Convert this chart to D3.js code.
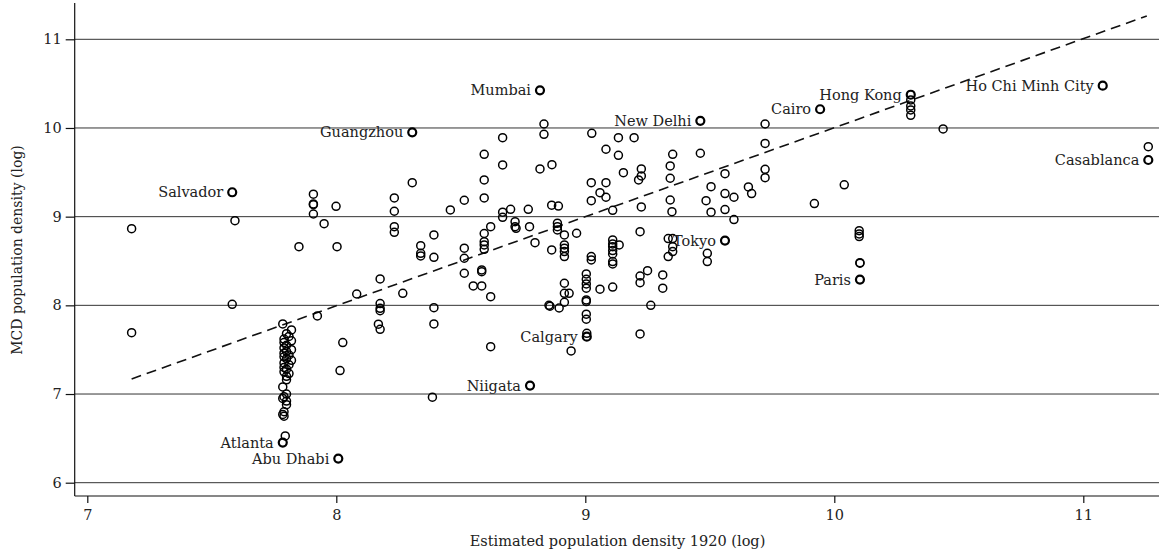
<!DOCTYPE html>
<html>
<head>
<meta charset="utf-8">
<script src="https://cdn.jsdelivr.net/npm/d3@7"></script>
<style>
  html, body { margin: 0; padding: 0; background: #fff; }
  svg { display: block; }
  text { font-family: "DejaVu Serif", "Liberation Serif", serif; fill: #222; }
</style>
</head>
<body>
<svg id="chart" width="1159" height="556"></svg>
<script>
// ---------- data ----------
const xTicks = [7, 8, 9, 10, 11];
const yTicks = [6, 7, 8, 9, 10, 11];
const xTitle = "Estimated population density 1920 (log)";
const yTitle = "MCD population density (log)";

const labelNames = ["Salvador", "Guangzhou", "Mumbai", "New Delhi", "Cairo", "Hong Kong",
  "Ho Chi Minh City", "Casablanca", "Tokyo", "Paris", "Calgary", "Niigata", "Atlanta", "Abu Dhabi"];
const labelX = [7.582, 8.305, 8.818, 9.462, 9.943, 10.307, 11.078, 11.261, 9.561, 10.103, 9.006, 8.778, 7.785, 8.008];
const labelY = [9.275, 9.951, 10.425, 10.081, 10.211, 10.375, 10.477, 9.639, 8.73, 8.29, 7.647, 7.095, 6.452, 6.272];

// fitted line end points
const fitX = [7.178, 11.255];
const fitY = [7.17, 11.263];

const scatterPoints = [
  [7.178, 8.865], [7.178, 7.692], [7.593, 8.955], [7.582, 8.012],
  [7.908, 9.253], [7.908, 9.143], [7.908, 9.135], [7.908, 9.03], [7.951, 8.921], [7.999, 9.117],
  [7.85, 8.662], [8.003, 8.662], [7.924, 7.88], [8.026, 7.58], [8.015, 7.264], [8.082, 8.128],
  [8.176, 8.298], [8.176, 8.02], [8.176, 7.967], [8.176, 7.94], [8.169, 7.787], [8.176, 7.73],
  [8.233, 9.211], [8.233, 9.061], [8.233, 8.887], [8.233, 8.824], [8.267, 8.136],
  [8.305, 9.383], [8.339, 8.673], [8.339, 8.587], [8.339, 8.557],
  [8.392, 8.794], [8.392, 8.542], [8.392, 7.974], [8.392, 7.79], [8.386, 6.964],
  [8.458, 9.076], [8.514, 9.185], [8.514, 8.644], [8.514, 8.531], [8.514, 8.362],
  [8.55, 8.219], [8.584, 8.399], [8.584, 8.38], [8.584, 8.219],
  [8.594, 9.703], [8.594, 9.414], [8.594, 9.211], [8.594, 8.81], [8.594, 8.718], [8.594, 8.681], [8.594, 8.632],
  [8.62, 8.887], [8.62, 8.098], [8.62, 7.534],
  [8.668, 9.891], [8.668, 9.583], [8.668, 9.05], [8.668, 8.993], [8.7, 9.083],
  [8.718, 8.944], [8.718, 8.887], [8.722, 8.869], [8.771, 9.083], [8.776, 8.887], [8.798, 8.707],
  [8.834, 10.045], [8.834, 9.929], [8.818, 9.538], [8.866, 9.586], [8.865, 9.13], [8.892, 9.12],
  [8.888, 8.926], [8.888, 8.887], [8.888, 8.85], [8.916, 8.794], [8.965, 8.813], [8.865, 8.625],
  [8.916, 8.681], [8.916, 8.644], [8.916, 8.606], [8.916, 8.55],
  [8.916, 8.249], [8.916, 8.136], [8.935, 8.136], [8.916, 8.035],
  [8.854, 8.0], [8.858, 7.99], [8.895, 7.97], [8.943, 7.486],
  [9.026, 9.94], [9.024, 9.383], [9.024, 9.18], [9.059, 9.27],
  [9.083, 9.76], [9.083, 9.383], [9.083, 9.219], [9.133, 9.891], [9.133, 9.692], [9.196, 9.891],
  [9.153, 9.496], [9.11, 9.072], [9.225, 9.538], [9.225, 9.459], [9.214, 9.414], [9.225, 9.11], [9.22, 8.831],
  [9.11, 8.737], [9.11, 8.692], [9.11, 8.662], [9.11, 8.617], [9.11, 8.579], [9.11, 8.493], [9.11, 8.467],
  [9.136, 8.681], [9.024, 8.55], [9.024, 8.512],
  [9.004, 8.354], [9.004, 8.294], [9.004, 8.241], [9.004, 8.193], [9.004, 8.061], [9.004, 8.042],
  [9.004, 7.9], [9.004, 7.843], [9.006, 7.685],
  [9.059, 8.182], [9.11, 8.206], [9.22, 8.331], [9.22, 8.256], [9.22, 7.678], [9.25, 8.391],
  [9.311, 8.343], [9.311, 8.193], [9.263, 8.0],
  [9.351, 9.703], [9.341, 9.572], [9.341, 9.433], [9.341, 9.188], [9.348, 9.056],
  [9.333, 8.753], [9.351, 8.753], [9.351, 8.662], [9.351, 8.606], [9.333, 8.55],
  [9.462, 9.715], [9.505, 9.338], [9.485, 9.18], [9.505, 9.05],
  [9.561, 9.485], [9.561, 9.26], [9.597, 9.219], [9.561, 9.08], [9.597, 8.967],
  [9.49, 8.587], [9.49, 8.493], [9.655, 9.335], [9.668, 9.26],
  [9.722, 10.045], [9.722, 9.826], [9.722, 9.534], [9.722, 9.44],
  [9.92, 9.147], [10.04, 9.359], [10.1, 8.842], [10.1, 8.805], [10.1, 8.775], [10.103, 8.481], [10.103, 8.475],
  [10.307, 10.316], [10.307, 10.248], [10.307, 10.203], [10.307, 10.143],
  [10.437, 9.989], [11.261, 9.789],
  // dense column near 7.8
  [7.785, 7.79], [7.82, 7.723], [7.8, 7.68], [7.81, 7.65], [7.79, 7.62], [7.82, 7.6], [7.79, 7.58],
  [7.8, 7.55], [7.79, 7.52], [7.82, 7.5], [7.8, 7.48], [7.79, 7.46], [7.81, 7.44], [7.79, 7.42],
  [7.8, 7.4], [7.82, 7.38], [7.79, 7.35], [7.81, 7.33], [7.79, 7.3], [7.8, 7.28], [7.79, 7.25],
  [7.81, 7.23], [7.8, 7.2], [7.8, 7.16], [7.785, 7.08], [7.8, 7.0], [7.79, 6.97], [7.785, 6.95],
  [7.8, 6.92], [7.8, 6.88], [7.79, 6.8], [7.785, 6.77], [7.79, 6.75], [7.795, 6.527]
];

// ---------- chart ----------
const svg = d3.select("#chart");
const x = d3.scaleLinear().domain([7, 11]).range([87.3, 1083.3]);
const y = d3.scaleLinear().domain([6, 11]).range([482.7, 39.3]);
const axisX0 = 74.7, axisY0 = 496, rightEdge = 1159;
const FS = 14.5;

// gridlines
svg.append("g").selectAll("line").data(yTicks).join("line")
  .attr("x1", axisX0).attr("x2", rightEdge)
  .attr("y1", d => y(d)).attr("y2", d => y(d))
  .attr("stroke", "#333").attr("stroke-width", 1);

// axis lines
svg.append("line").attr("x1", axisX0).attr("x2", axisX0).attr("y1", 3).attr("y2", axisY0)
  .attr("stroke", "#111").attr("stroke-width", 1.2);
svg.append("line").attr("x1", axisX0).attr("x2", rightEdge).attr("y1", axisY0).attr("y2", axisY0)
  .attr("stroke", "#111").attr("stroke-width", 1.2);

// y axis ticks
const gy = svg.append("g").attr("transform", `translate(${axisX0},0)`)
  .call(d3.axisLeft(y).tickValues(yTicks).tickSize(9).tickPadding(4).tickFormat(d3.format("d")));
gy.select(".domain").remove();
gy.selectAll(".tick line").attr("stroke", "#111").attr("stroke-width", 1.2);
gy.selectAll(".tick text").attr("font-size", FS).attr("font-family", "DejaVu Serif").attr("fill", "#222");

// x axis ticks
const gx = svg.append("g").attr("transform", `translate(0,${axisY0})`)
  .call(d3.axisBottom(x).tickValues(xTicks).tickSize(7).tickPadding(7).tickFormat(d3.format("d")));
gx.select(".domain").remove();
gx.selectAll(".tick line").attr("stroke", "#111").attr("stroke-width", 1.2);
gx.selectAll(".tick text").attr("font-size", FS).attr("font-family", "DejaVu Serif").attr("fill", "#222");

// titles
svg.append("text").attr("x", 617.5).attr("y", 545.5).attr("text-anchor", "middle")
  .attr("font-size", FS).text(xTitle);
svg.append("text").attr("transform", "translate(22,250) rotate(-90)").attr("text-anchor", "middle")
  .attr("font-size", 14).text(yTitle);

// fitted line
svg.append("path")
  .datum(fitX.map((d, i) => [d, fitY[i]]))
  .attr("d", d3.line().x(d => x(d[0])).y(d => y(d[1])))
  .attr("fill", "none").attr("stroke", "#111").attr("stroke-width", 1.6)
  .attr("stroke-dasharray", "10,6");

// scatter points
svg.append("g").selectAll("circle").data(scatterPoints).join("circle")
  .attr("cx", d => x(d[0])).attr("cy", d => y(d[1])).attr("r", 4)
  .attr("fill", "none").attr("stroke", "#000").attr("stroke-width", 1.5);

// labeled points
const labeled = labelNames.map((n, i) => ({ name: n, x: labelX[i], y: labelY[i] }));
svg.append("g").selectAll("circle").data(labeled).join("circle")
  .attr("cx", d => x(d.x)).attr("cy", d => y(d.y)).attr("r", 4)
  .attr("fill", "none").attr("stroke", "#000").attr("stroke-width", 2.2);
svg.append("g").selectAll("text").data(labeled).join("text")
  .attr("x", d => x(d.x) - 9).attr("y", d => y(d.y)).attr("dy", "0.35em")
  .attr("text-anchor", "end").attr("font-size", FS).attr("fill", "#333")
  .text(d => d.name);
</script>
</body>
</html>
